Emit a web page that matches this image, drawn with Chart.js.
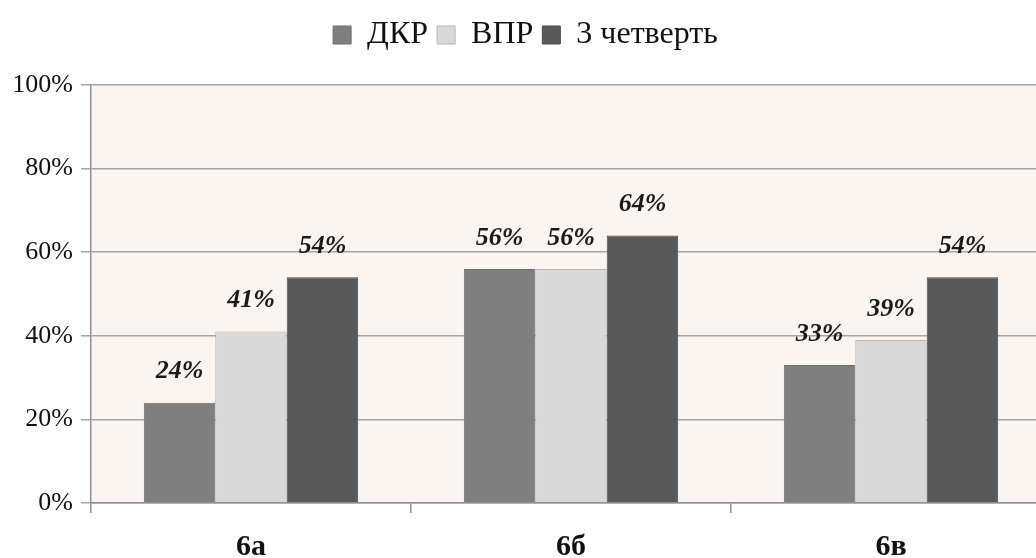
<!DOCTYPE html>
<html>
<head>
<meta charset="utf-8">
<script src="https://cdn.jsdelivr.net/npm/chart.js@4/dist/chart.umd.min.js"></script>
<style>
  html, body { margin: 0; padding: 0; background: #fff; overflow: hidden; }
  #wrap { width: 1052px; height: 558px; }
</style>
</head>
<body>
<div id="wrap"><canvas id="chart"></canvas></div>
<script>
var classes = ['6а', '6б', '6в'];
var seriesNames = ['ДКР', 'ВПР', '3 четверть'];
var dkr = [24, 56, 33];
var vpr = [41, 56, 39];
var quarter3 = [54, 64, 54];
var yTicks = [0, 20, 40, 60, 80, 100];

var serif = '"Liberation Serif", "Times New Roman", serif';

//fill the plot area with the pale background
var plotBg = {
  id: 'plotBg',
  beforeDraw: function(chart) {
    var a = chart.chartArea, ctx = chart.ctx;
    ctx.save();
    ctx.fillStyle = '#faf5f1';
    ctx.fillRect(a.left, a.top, a.right - a.left, a.bottom - a.top);
    ctx.restore();
  }
};

//extra room under the legend
var legendGap = {
  id: 'legendGap',
  beforeLayout: function(chart) {
    var lg = chart.legend;
    if (lg && !lg._gapAdded) {
      var fit = lg.fit;
      lg.fit = function() {
        fit.call(this);
        this.height += 24;
      };
      lg._gapAdded = true;
    }
  }
};

//value labels above every bar
var barLabels = {
  id: 'barLabels',
  afterDatasetsDraw: function(chart) {
    var ctx = chart.ctx;
    ctx.save();
    ctx.font = 'italic bold 26px ' + serif;
    ctx.fillStyle = '#1a1a1a';
    ctx.textAlign = 'center';
    ctx.textBaseline = 'middle';
    chart.data.datasets.forEach(function(ds, i) {
      chart.getDatasetMeta(i).data.forEach(function(bar, j) {
        ctx.fillText(ds.data[j] + '%', bar.x, bar.y - 31);
      });
    });
    ctx.restore();
  }
};

new Chart(document.getElementById('chart'), {
  type: 'bar',
  data: {
    labels: classes,
    datasets: [
      { label: seriesNames[0], data: dkr, backgroundColor: '#7f7f7f', borderColor: '#6e6e6e', borderWidth: 1 },
      { label: seriesNames[1], data: vpr, backgroundColor: '#d9d9d9', borderColor: '#b5b5b5', borderWidth: 1 },
      { label: seriesNames[2], data: quarter3, backgroundColor: '#595959', borderColor: '#4a4a4a', borderWidth: 1 }
    ]
  },
  options: {
    responsive: true,
    maintainAspectRatio: false,
    animation: false,
    layout: { padding: { top: 10, left: 0, right: 1, bottom: 0 } },
    datasets: { bar: { categoryPercentage: 0.67, barPercentage: 1 } },
    plugins: {
      legend: {
        position: 'top',
        labels: {
          boxWidth: 18,
          boxHeight: 18,
          padding: 9,
          color: '#111',
          font: { family: serif, size: 32 }
        }
      },
      tooltip: { enabled: false }
    },
    scales: {
      x: {
        grid: { drawOnChartArea: false, drawTicks: true, tickLength: 10, color: '#8f8f8f', lineWidth: 1.5 },
        border: { color: '#8f8f8f', width: 1.5 },
        ticks: { color: '#111', font: { family: serif, size: 30, weight: 'bold' }, padding: 16 },
        afterFit: function(s) { s.height = 55; }
      },
      y: {
        min: 0,
        max: 100,
        afterBuildTicks: function(s) { s.ticks = yTicks.map(function(v) { return { value: v }; }); },
        grid: { color: '#a3a3a3', lineWidth: 1.5, tickLength: 10 },
        border: { color: '#8f8f8f', width: 1.5 },
        ticks: {
          color: '#111',
          font: { family: serif, size: 26 },
          padding: 8,
          callback: function(v) { return v + '%'; }
        },
        afterFit: function(s) { s.width = 91; }
      }
    }
  },
  plugins: [plotBg, legendGap, barLabels]
});
</script>
</body>
</html>
